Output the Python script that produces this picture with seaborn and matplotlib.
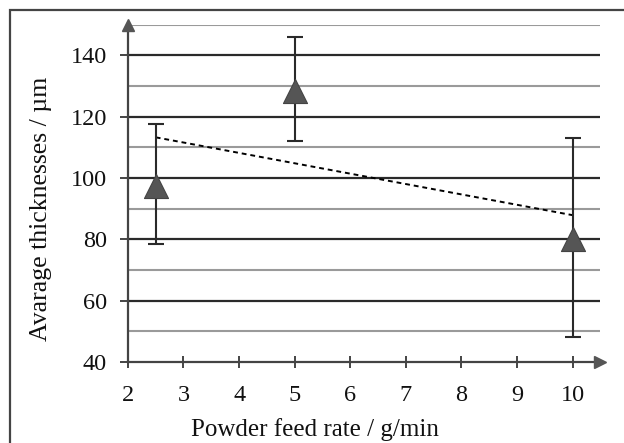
import numpy as np
import matplotlib
matplotlib.use('Agg')
import matplotlib.pyplot as plt
import seaborn as sns
import pandas as pd
from matplotlib.patches import Rectangle

feed_rate = [2.5, 5.0, 10.0]
thickness = [97.5, 128.5, 80.0]
err_low = [78.5, 112.0, 48.0]
err_high = [117.5, 146.0, 113.0]
x_ticks = [2, 3, 4, 5, 6, 7, 8, 9, 10]
y_major = [40, 60, 80, 100, 120, 140]
y_minor = [50, 70, 90, 110, 130, 150]

sns.set_style('white')
plt.rcParams['font.family'] = ['Liberation Serif', 'DejaVu Serif']

df = pd.DataFrame({'rate': feed_rate, 'thick': thickness})

fig = plt.figure(figsize=(6.24, 4.43), dpi=100)
ax = fig.add_axes([0.205, 0.183, 0.757, 0.761])

# grid lines
for v in y_minor:
    ax.axhline(v, color='#9a9a9a', lw=1.5, zorder=1)
for v in y_major[1:]:
    ax.axhline(v, color='#2a2a2a', lw=1.6, zorder=1)

# trend line
sns.regplot(data=df, x='rate', y='thick', ax=ax, scatter=False, ci=None,
            truncate=True, line_kws={'color': 'black', 'lw': 1.4,
                                     'ls': (0, (2.5, 2)), 'zorder': 3})

# error bars
lo = np.array(thickness) - np.array(err_low)
hi = np.array(err_high) - np.array(thickness)
ax.errorbar(feed_rate, thickness, yerr=[lo, hi], fmt='none', ecolor='#2a2a2a',
            elinewidth=1.5, capsize=6, capthick=1.5, zorder=4)

sns.scatterplot(data=df, x='rate', y='thick', ax=ax, marker='^', s=300,
                color='#555555', edgecolor='#444444', linewidth=0.8, zorder=5)

ax.set_xlim(2, 10.5)
ax.set_ylim(40, 150)
ax.set_xticks(x_ticks)
ax.set_yticks(y_major)
for s in ['top', 'right']:
    ax.spines[s].set_visible(False)
for s in ['left', 'bottom']:
    ax.spines[s].set_color('#444444')
    ax.spines[s].set_linewidth(1.6)
    ax.spines[s].set_zorder(6)

# arrow heads on the axes
ax.plot(1, 0, '>', color='#555555', ms=8, transform=ax.transAxes, clip_on=False, zorder=7)
ax.plot(0, 1, '^', color='#555555', ms=8, transform=ax.transAxes, clip_on=False, zorder=7)

ax.tick_params(axis='y', direction='out', length=6, width=1.4, color='#444444',
               pad=9, labelsize=17.5, left=True, labelcolor='#111111')
ax.tick_params(axis='x', direction='inout', length=9, width=1.4, color='#444444',
               pad=12, labelsize=17.5, bottom=True, labelcolor='#111111')

ax.set_xlabel('Powder feed rate / g/min', fontsize=18, color='#111111')
ax.set_ylabel('Avarage thicknesses / µm', fontsize=18.5, color='#111111')
ax.xaxis.set_label_coords(0.396, -0.165)
ax.yaxis.set_label_coords(-0.16, 0.454)

fig.patches.append(Rectangle((10 / 624, -0.2), 1.2, 1.2 - 10 / 443,
                             transform=fig.transFigure, fill=False,
                             edgecolor='#444444', lw=1.6))

fig.savefig('out.png', dpi=100)
